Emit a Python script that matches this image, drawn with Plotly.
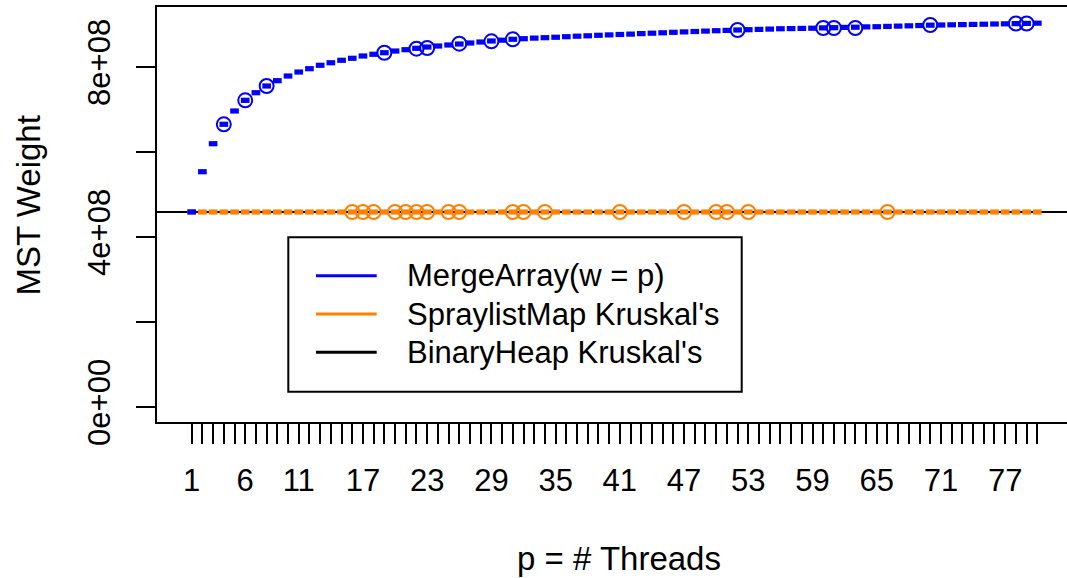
import plotly.graph_objects as go

# ---- data -------------------------------------------------------------
threads = list(range(1, 81))

# MergeArray(w = p): median MST weight per thread count
mergearray_median = [
    4.590e8, 5.536e8, 6.195e8, 6.652e8, 6.965e8, 7.216e8, 7.395e8, 7.553e8,
    7.678e8, 7.788e8, 7.882e8, 7.960e8, 8.040e8, 8.100e8, 8.158e8, 8.205e8,
    8.259e8, 8.299e8, 8.336e8, 8.376e8, 8.407e8, 8.440e8, 8.470e8, 8.494e8,
    8.518e8, 8.541e8, 8.565e8, 8.588e8, 8.612e8, 8.631e8, 8.652e8, 8.666e8,
    8.680e8, 8.690e8, 8.700e8, 8.713e8, 8.725e8, 8.734e8, 8.746e8, 8.755e8,
    8.765e8, 8.774e8, 8.786e8, 8.795e8, 8.805e8, 8.816e8, 8.826e8, 8.835e8,
    8.845e8, 8.854e8, 8.861e8, 8.871e8, 8.878e8, 8.885e8, 8.892e8, 8.900e8,
    8.904e8, 8.908e8, 8.913e8, 8.920e8, 8.925e8, 8.932e8, 8.936e8, 8.944e8,
    8.948e8, 8.955e8, 8.962e8, 8.969e8, 8.976e8, 8.984e8, 8.988e8, 8.993e8,
    8.998e8, 9.002e8, 9.007e8, 9.012e8, 9.016e8, 9.021e8, 9.026e8, 9.031e8,
]
mergearray_outlier_threads = [4, 6, 8, 19, 22, 23, 26, 29, 31, 52, 60, 61, 63, 70, 78, 79]
mergearray_outlier_values = [
    6.652e8, 7.216e8, 7.553e8, 8.336e8, 8.431e8, 8.447e8, 8.549e8, 8.604e8,
    8.652e8, 8.871e8, 8.918e8, 8.918e8, 8.918e8, 8.988e8, 9.023e8, 9.023e8,
]

# SpraylistMap Kruskal's: median MST weight per thread count
spraylist_median = [
    4.588e8, 4.588e8, 4.588e8, 4.588e8, 4.588e8, 4.588e8, 4.588e8, 4.588e8,
    4.588e8, 4.588e8, 4.588e8, 4.588e8, 4.588e8, 4.588e8, 4.588e8, 4.588e8,
    4.588e8, 4.588e8, 4.588e8, 4.588e8, 4.588e8, 4.588e8, 4.588e8, 4.588e8,
    4.588e8, 4.588e8, 4.588e8, 4.588e8, 4.588e8, 4.588e8, 4.588e8, 4.588e8,
    4.588e8, 4.588e8, 4.588e8, 4.588e8, 4.588e8, 4.588e8, 4.588e8, 4.588e8,
    4.588e8, 4.588e8, 4.588e8, 4.588e8, 4.588e8, 4.588e8, 4.588e8, 4.588e8,
    4.588e8, 4.588e8, 4.588e8, 4.588e8, 4.588e8, 4.588e8, 4.588e8, 4.588e8,
    4.588e8, 4.588e8, 4.588e8, 4.588e8, 4.588e8, 4.588e8, 4.588e8, 4.588e8,
    4.588e8, 4.588e8, 4.588e8, 4.588e8, 4.588e8, 4.588e8, 4.588e8, 4.588e8,
    4.588e8, 4.588e8, 4.588e8, 4.588e8, 4.588e8, 4.588e8, 4.588e8, 4.588e8,
]
spraylist_outlier_threads = [16, 17, 18, 20, 21, 22, 23, 25, 26, 31, 32, 34, 41, 47, 50, 51, 53, 66]
spraylist_outlier_values = [4.588e8] * len(spraylist_outlier_threads)

# BinaryHeap Kruskal's: single reference weight
binaryheap_weight = 4.588e8

x_tick_labels = ["1", "6", "11", "17", "23", "29", "35", "41", "47", "53", "59", "65", "71", "77"]
y_tick_values = [0, 2e8, 4e8, 6e8, 8e8]
y_tick_text = ["0e+00", "", "4e+08", "", "8e+08"]

series_names = ["MergeArray(w = p)", "SpraylistMap Kruskal's", "BinaryHeap Kruskal's"]
series_colors = ["#0000FF", "#FF7F00", "#000000"]

# ---- layout geometry --------------------------------------------------
W, H = 1067, 578
PL, PT, PR, PB = 157, 7, 1067, 422  # plot area in pixels
FONT = "Liberation Sans, Arial, Helvetica, sans-serif"
FS = 31
FS_TITLE = 33


def px_x(px):
    return (px - PL) / (PR - PL)


def px_y(py):
    return (PB - py) / (PB - PT)


fig = go.Figure()

median_marker = dict(symbol="line-ew", size=6.2)
median_width = 5.2

# spraylist medians and outliers
fig.add_trace(go.Scatter(
    x=threads, y=spraylist_median, mode="markers",
    marker=dict(**median_marker, color=series_colors[1],
                line=dict(color=series_colors[1], width=median_width)),
    hoverinfo="skip"))
fig.add_trace(go.Scatter(
    x=spraylist_outlier_threads, y=spraylist_outlier_values, mode="markers",
    marker=dict(symbol="circle-open", size=14, color=series_colors[1],
                line=dict(color=series_colors[1], width=2)),
    hoverinfo="skip"))

# mergearray medians and outliers
fig.add_trace(go.Scatter(
    x=threads, y=mergearray_median, mode="markers",
    marker=dict(**median_marker, color=series_colors[0],
                line=dict(color=series_colors[0], width=median_width)),
    hoverinfo="skip"))
fig.add_trace(go.Scatter(
    x=mergearray_outlier_threads, y=mergearray_outlier_values, mode="markers",
    marker=dict(symbol="circle-open", size=14, color=series_colors[0],
                line=dict(color=series_colors[0], width=2)),
    hoverinfo="skip"))

shapes = [
    # binary heap reference line
    dict(type="line", xref="paper", x0=0, x1=1, yref="y",
         y0=binaryheap_weight, y1=binaryheap_weight,
         line=dict(color="black", width=2), layer="below"),
    # legend frame
    dict(type="rect", xref="paper", yref="paper",
         x0=px_x(288.3), x1=px_x(741.7), y0=px_y(391.7), y1=px_y(237.3),
         line=dict(color="black", width=2), fillcolor="white", layer="above"),
]
annotations = []
legend_rows = [275.7, 314.0, 352.3]
for name, color, ry in zip(series_names, series_colors, legend_rows):
    shapes.append(dict(type="line", xref="paper", yref="paper",
                       x0=px_x(316), x1=px_x(376.7), y0=px_y(ry), y1=px_y(ry),
                       line=dict(color=color, width=3)))
    annotations.append(dict(xref="paper", yref="paper", x=px_x(405), y=px_y(ry),
                            xanchor="left", yanchor="middle", showarrow=False,
                            text=name, font=dict(family=FONT, size=FS, color="black")))

# axis titles
annotations.append(dict(xref="paper", yref="paper", x=px_x(619), y=px_y(558),
                        xanchor="center", yanchor="middle", showarrow=False,
                        text="p = # Threads", font=dict(family=FONT, size=FS_TITLE, color="black")))
annotations.append(dict(xref="paper", yref="paper", x=px_x(27.5), y=px_y(206),
                        xanchor="center", yanchor="middle", showarrow=False, textangle=-90,
                        text="MST Weight", font=dict(family=FONT, size=FS_TITLE, color="black")))

x_tick_text = [str(t) if str(t) in x_tick_labels else "" for t in threads]

spacing = (1037.3 - 191.7) / 79
x_lo = 1 - (191.7 - PL) / spacing
x_hi = 80 + (PR - 1037.3) / spacing
per_px = 2e8 / 85.0
y_lo = -(PB - 407) * per_px
y_hi = (407 - PT) * per_px

fig.update_layout(
    width=W, height=H,
    margin=dict(l=PL, r=W - PR, t=PT, b=H - PB, pad=0),
    paper_bgcolor="white", plot_bgcolor="white",
    showlegend=False,
    font=dict(family=FONT, size=FS, color="black"),
    shapes=shapes, annotations=annotations,
    xaxis=dict(range=[x_lo, x_hi], tickmode="array", tickvals=threads, ticktext=x_tick_text,
               ticks="outside", ticklen=20, tickwidth=2, tickcolor="black",
               showline=True, linecolor="black", linewidth=2, mirror=True,
               showgrid=False, zeroline=False, tickangle=0, ticklabelstandoff=10,
               tickfont=dict(family=FONT, size=FS, color="black")),
    yaxis=dict(range=[y_lo, y_hi], tickmode="array", tickvals=y_tick_values, ticktext=y_tick_text,
               ticks="outside", ticklen=19, tickwidth=2, tickcolor="black",
               showline=True, linecolor="black", linewidth=2, mirror=False,
               showgrid=False, zeroline=False, tickangle=-90, ticklabelstandoff=14,
               tickfont=dict(family=FONT, size=FS, color="black")),
)

fig.write_html("out.html")
